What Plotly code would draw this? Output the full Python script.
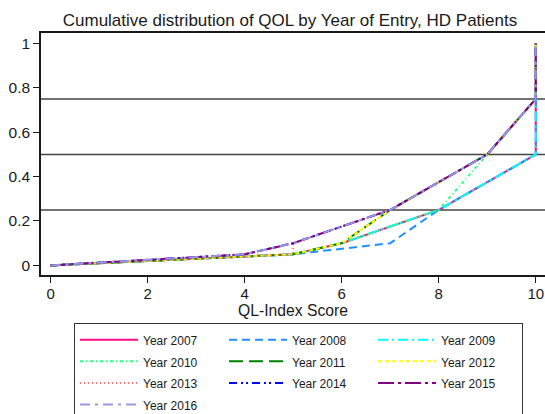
"""Cumulative distribution of QL-Index score by year of entry (HD patients)."""

import plotly.graph_objects as go

# cumulative proportion reached at each quantile point
cum_prob = [0, 0.05, 0.10, 0.25, 0.50, 0.75, 1.00]

# QL-Index score at each cumulative proportion, by year of entry
years = ["2007", "2008", "2009", "2010", "2011", "2012", "2013", "2014", "2015", "2016"]
ql_2007 = [0, 5, 6, 8, 10, 10, 10]
ql_2008 = [0, 5, 7, 8, 10, 10, 10]
ql_2009 = [0, 5, 6, 8, 10, 10, 10]
ql_2010 = [0, 5, 6, 8, 9, 10, 10]
ql_2011 = [0, 5, 6, 7, 9, 10, 10]
ql_2012 = [0, 5, 6, 7, 9, 10, 10]
ql_2013 = [0, 5, 5, 7, 9, 10, 10]
ql_2014 = [0, 4, 5, 7, 9, 10, 10]
ql_2015 = [0, 4, 5, 7, 9, 10, 10]
ql_2016 = [0, 4, 5, 7, 9, 10, 10]
ql_by_year = [ql_2007, ql_2008, ql_2009, ql_2010, ql_2011,
              ql_2012, ql_2013, ql_2014, ql_2015, ql_2016]

quartile_lines = [0.25, 0.50, 0.75]

x_ticks = [0, 2, 4, 6, 8, 10]
y_ticks = [0, 0.2, 0.4, 0.6, 0.8, 1]
y_tick_labels = ["0", "0.2", "0.4", "0.6", "0.8", "1"]

STYLES = [
    ("#FF0A84", "solid"),
    ("#1E90FF", "8px,5px"),
    ("#00FFFF", "10px,4px,2px,4px"),
    ("#2EFF80", "3px,3px,1px,3px"),
    ("#008000", "14px,6px"),
    ("#FFFF00", "4px,3px"),
    ("#FF7070", "1px,3px"),
    ("#0000FF", "8px,4px,2px,3px,2px,4px"),
    ("#800080", "16px,4px,3px,4px"),
    ("#9999DD", "10px,5px,3px,5px"),
]

FONT = "Liberation Sans, Arial, sans-serif"

fig = go.Figure()
for year, ql, (color, dash) in zip(years, ql_by_year, STYLES):
    fig.add_trace(
        go.Scatter(
            x=ql,
            y=cum_prob,
            mode="lines",
            # small text inside a taller legend font keeps the row pitch wide
            name=f'<span style="font-size:12px">Year {year}</span>',
            line=dict(color=color, width=2, dash=dash),
        )
    )

for level in quartile_lines:
    fig.add_hline(y=level, line_color="#444444", line_width=1.5, layer="below")

fig.update_layout(
    width=545,
    height=414,
    margin=dict(l=41, r=0, t=33, b=139, autoexpand=False),
    plot_bgcolor="#FFFFFF",
    paper_bgcolor="#FFFFFF",
    font=dict(family=FONT, color="#1A1A1A", size=15),
    title=dict(
        text="Cumulative distribution of QOL by Year of Entry, HD Patients",
        x=290 / 545,
        xanchor="center",
        y=(414 - 20) / 414,
        yanchor="middle",
        font=dict(size=17, color="#1A1A1A"),
    ),
    xaxis=dict(
        range=[-0.198, 10.19],
        tickvals=x_ticks,
        ticks="outside",
        ticklen=6,
        tickcolor="#1A1A1A",
        showline=True,
        linecolor="#1A1A1A",
        linewidth=1.5,
        mirror=True,
        showgrid=False,
        zeroline=False,
        ticklabelstandoff=-2,
        title=dict(text="QL-Index Score", font=dict(size=15.7), standoff=0),
        tickfont=dict(size=15),
    ),
    yaxis=dict(
        range=[-0.0433, 1.0469],
        tickvals=y_ticks,
        ticktext=y_tick_labels,
        ticks="outside",
        ticklen=6,
        tickcolor="#1A1A1A",
        showline=True,
        linecolor="#1A1A1A",
        linewidth=1.5,
        showgrid=False,
        zeroline=False,
        tickfont=dict(size=15.5),
    ),
    legend=dict(
        orientation="h",
        x=0.0655,
        xanchor="left",
        y=-0.198,
        yanchor="top",
        bgcolor="#FFFFFF",
        bordercolor="#333333",
        borderwidth=1,
        font=dict(size=14.3, color="#1A1A1A"),
        itemwidth=58,
        entrywidth=76,
        entrywidthmode="pixels",
        traceorder="normal",
    ),
    showlegend=True,
)

fig.write_html(
    "out.html",
    config={"displayModeBar": False},
    post_script="document.body.style.margin = '0';",
)
